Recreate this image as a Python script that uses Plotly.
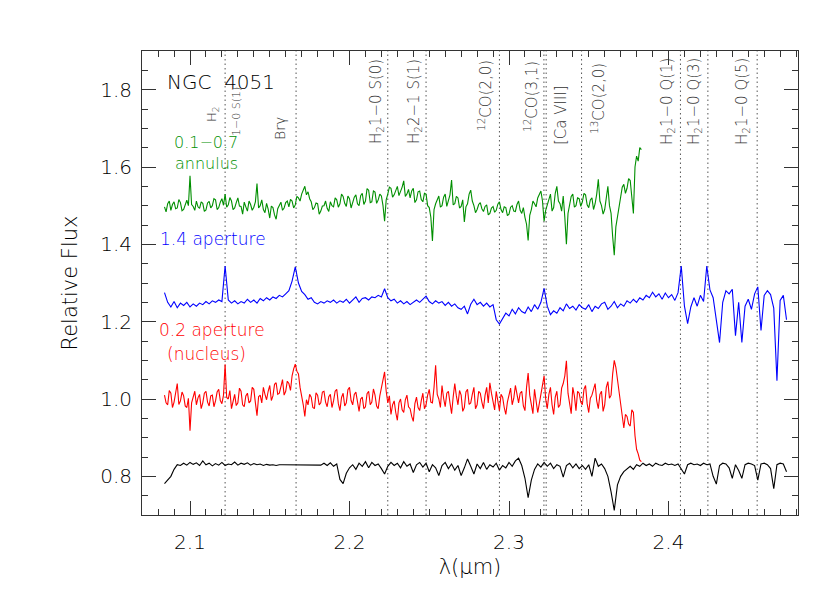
import numpy as np
import plotly.graph_objects as go

# wavelength grids (micron): start and sampling step of each spectrum
lam_start = 2.084
step_fine = 0.001     # annulus and nucleus spectra
step_coarse = 0.002   # 1.4" aperture and template

# 0.1-0.7 arcsec annulus
flux_annulus = [
    1.497, 1.484, 1.505, 1.512, 1.488, 1.503, 1.510, 1.492, 1.494, 1.516,
    1.508, 1.487, 1.490, 1.505, 1.514, 1.500, 1.577, 1.503, 1.498, 1.488,
    1.512, 1.497, 1.493, 1.510, 1.506, 1.485, 1.489, 1.507, 1.511, 1.494,
    1.500, 1.518, 1.515, 1.490, 1.495, 1.509, 1.518, 1.501, 1.530, 1.496,
    1.502, 1.521, 1.512, 1.490, 1.494, 1.508, 1.520, 1.499, 1.498, 1.478,
    1.509, 1.497, 1.486, 1.512, 1.503, 1.488, 1.496, 1.510, 1.557, 1.494,
    1.500, 1.515, 1.490, 1.482, 1.506, 1.491, 1.468, 1.499, 1.495, 1.476,
    1.465, 1.492, 1.500, 1.509, 1.488, 1.494, 1.508, 1.512, 1.497, 1.516,
    1.512, 1.494, 1.502, 1.524, 1.520, 1.512, 1.530, 1.542, 1.550, 1.528,
    1.536, 1.518, 1.510, 1.490, 1.495, 1.507, 1.505, 1.478, 1.486, 1.499,
    1.500, 1.512, 1.493, 1.485, 1.510, 1.500, 1.497, 1.520, 1.515, 1.496,
    1.505, 1.530, 1.524, 1.506, 1.498, 1.525, 1.518, 1.494, 1.508, 1.522,
    1.528, 1.505, 1.500, 1.526, 1.532, 1.503, 1.512, 1.544, 1.540, 1.508,
    1.510, 1.538, 1.535, 1.506, 1.515, 1.530, 1.525, 1.500, 1.460, 1.515,
    1.530, 1.548, 1.545, 1.522, 1.528, 1.540, 1.550, 1.526, 1.535, 1.548,
    1.564, 1.524, 1.530, 1.542, 1.520, 1.538, 1.545, 1.508, 1.515, 1.536,
    1.538, 1.516, 1.510, 1.532, 1.530, 1.500, 1.495, 1.470, 1.409, 1.490,
    1.505, 1.518, 1.525, 1.496, 1.500, 1.522, 1.530, 1.498, 1.512, 1.528,
    1.566, 1.502, 1.505, 1.524, 1.520, 1.494, 1.498, 1.515, 1.458, 1.497,
    1.505, 1.530, 1.540, 1.512, 1.500, 1.482, 1.490, 1.503, 1.508, 1.492,
    1.485, 1.498, 1.502, 1.476, 1.480, 1.494, 1.498, 1.483, 1.488, 1.504,
    1.510, 1.490, 1.482, 1.497, 1.495, 1.474, 1.478, 1.496, 1.500, 1.486,
    1.485, 1.503, 1.512, 1.488, 1.480, 1.495, 1.470, 1.452, 1.410, 1.475,
    1.490, 1.512, 1.505, 1.497, 1.520, 1.530, 1.538, 1.512, 1.460, 1.488,
    1.500, 1.518, 1.530, 1.486, 1.495, 1.532, 1.550, 1.512, 1.505, 1.486,
    1.525, 1.470, 1.400, 1.480, 1.508, 1.524, 1.530, 1.496, 1.500, 1.520,
    1.518, 1.498, 1.510, 1.532, 1.528, 1.502, 1.495, 1.515, 1.520, 1.490,
    1.505, 1.530, 1.568, 1.512, 1.500, 1.478, 1.490, 1.522, 1.550, 1.500,
    1.480, 1.420, 1.372, 1.445, 1.470, 1.505, 1.520, 1.548, 1.555, 1.532,
    1.545, 1.570, 1.565, 1.520, 1.480, 1.600, 1.628, 1.615, 1.650, 1.645,
]

# 1.4 arcsec aperture
flux_ap14 = [
    1.275, 1.250, 1.238, 1.252, 1.236, 1.248, 1.242, 1.250, 1.238, 1.246,
    1.240, 1.248, 1.244, 1.252, 1.246, 1.254, 1.250, 1.256, 1.252, 1.344,
    1.256, 1.248, 1.254, 1.246, 1.252, 1.248, 1.258, 1.250, 1.256, 1.248,
    1.260, 1.254, 1.262, 1.256, 1.264, 1.260, 1.268, 1.264, 1.272, 1.280,
    1.305, 1.342, 1.300, 1.278, 1.270, 1.258, 1.262, 1.250, 1.246, 1.252,
    1.248, 1.254, 1.250, 1.256, 1.248, 1.254, 1.250, 1.258, 1.248, 1.256,
    1.264, 1.250, 1.260, 1.262, 1.256, 1.264, 1.262, 1.268, 1.264, 1.285,
    1.262, 1.254, 1.258, 1.248, 1.254, 1.246, 1.252, 1.244, 1.250, 1.256,
    1.250, 1.258, 1.266, 1.252, 1.246, 1.254, 1.248, 1.252, 1.242, 1.250,
    1.240, 1.246, 1.236, 1.232, 1.240, 1.220, 1.245, 1.258, 1.244, 1.250,
    1.240, 1.248, 1.238, 1.244, 1.205, 1.194, 1.208, 1.222, 1.215, 1.232,
    1.220, 1.236, 1.226, 1.222, 1.238, 1.226, 1.244, 1.232, 1.250, 1.286,
    1.240, 1.218, 1.228, 1.222, 1.236, 1.228, 1.246, 1.234, 1.240, 1.230,
    1.244, 1.236, 1.232, 1.244, 1.226, 1.240, 1.234, 1.246, 1.250, 1.232,
    1.240, 1.252, 1.236, 1.246, 1.240, 1.254, 1.248, 1.258, 1.250, 1.262,
    1.256, 1.268, 1.262, 1.276, 1.264, 1.272, 1.258, 1.274, 1.262, 1.270,
    1.255, 1.275, 1.344, 1.240, 1.195, 1.238, 1.262, 1.240, 1.268, 1.252,
    1.344, 1.282, 1.262, 1.200, 1.146, 1.250, 1.280, 1.272, 1.284, 1.164,
    1.250, 1.146, 1.240, 1.258, 1.232, 1.272, 1.290, 1.177, 1.268, 1.280,
    1.270, 1.235, 1.047, 1.255, 1.268, 1.205,
]

# 0.2 arcsec aperture (nucleus)
flux_nucleus = [
    1.010, 0.990, 0.985, 1.022, 1.015, 0.978, 0.992, 1.012, 1.040, 0.986,
    0.995, 1.018, 1.008, 0.982, 0.978, 1.002, 0.918, 0.990, 1.005, 1.020,
    0.985, 1.003, 1.012, 0.975, 0.990, 1.015, 1.020, 0.992, 0.982, 1.008,
    1.010, 0.980, 0.995, 1.018, 1.025, 0.996, 0.988, 1.010, 1.090, 1.004,
    1.000, 1.022, 0.975, 0.998, 1.012, 0.983, 0.990, 1.028, 1.020, 0.985,
    0.980, 1.008, 1.015, 0.990, 0.995, 1.030, 1.025, 0.990, 0.957, 1.006,
    1.010, 0.990, 1.030, 1.012, 0.998, 1.020, 1.035, 0.996, 1.008, 1.038,
    1.042, 1.012, 1.015, 1.032, 1.050, 1.010, 1.020, 1.046, 1.040, 1.022,
    1.060, 1.078, 1.090, 1.072, 1.065, 1.030, 1.010, 0.985, 0.955, 0.998,
    0.985, 1.012, 1.005, 0.978, 0.975, 1.016, 1.010, 0.985, 0.990, 1.018,
    1.020, 0.992, 0.980, 1.006, 1.012, 0.978, 0.995, 1.020, 1.025, 0.988,
    0.970, 1.004, 1.015, 0.982, 0.990, 1.024, 1.030, 0.996, 0.985, 1.012,
    1.018, 0.990, 0.968, 1.000, 1.005, 0.975, 0.980, 1.014, 1.020, 0.985,
    0.992, 1.026, 1.010, 0.982, 0.975, 1.008, 1.030, 1.045, 1.070, 1.020,
    0.990, 1.008, 0.960, 0.985, 0.995, 0.965, 0.945, 0.990, 1.000, 0.972,
    0.965, 0.998, 1.010, 0.980, 0.975, 0.955, 0.942, 0.988, 1.005, 0.978,
    0.970, 0.996, 1.015, 0.975, 0.985, 1.010, 1.025, 0.992, 0.990, 1.030,
    1.087, 1.012, 1.000, 0.978, 1.035, 1.002, 0.980, 1.015, 1.020, 0.990,
    0.962, 1.005, 1.040, 1.008, 0.985, 1.022, 1.010, 0.968, 0.978, 1.018,
    1.025, 0.986, 0.990, 1.012, 1.030, 0.975, 0.985, 1.020, 1.015, 0.992,
    0.975, 1.010, 1.030, 0.990, 1.042, 1.015, 0.995, 0.972, 1.020, 0.995,
    0.970, 1.012, 1.005, 0.978, 0.960, 0.992, 1.015, 1.028, 0.985, 1.002,
    1.035, 1.006, 0.990, 1.015, 1.020, 0.982, 0.970, 1.030, 1.067, 1.010,
    0.985, 0.962, 1.025, 0.995, 0.965, 0.988, 1.010, 1.034, 1.060, 1.000,
    0.975, 1.012, 1.030, 0.985, 0.960, 1.005, 1.020, 0.978, 0.985, 1.028,
    1.040, 1.060, 1.099, 1.015, 0.990, 0.962, 1.030, 1.008, 0.970, 1.020,
    1.015, 0.992, 0.985, 1.025, 1.035, 0.988, 0.965, 1.002, 1.010, 1.028,
    1.040, 0.995, 0.975, 1.012, 1.020, 0.968, 0.985, 1.030, 1.045, 1.002,
    1.010, 1.065, 1.100, 1.082, 1.050, 1.020, 0.985, 0.950, 0.925, 0.960,
    0.955, 0.935, 0.930, 0.972, 0.965, 0.905, 0.870, 0.858, 0.842, 0.838,
]

# stellar template
flux_template = [
    0.781, 0.792, 0.800, 0.818, 0.830, 0.828, 0.834, 0.829, 0.836, 0.831,
    0.835, 0.828, 0.840, 0.830, 0.834, 0.827, 0.833, 0.829, 0.836, 0.828,
    0.832, 0.830, 0.837, 0.829, 0.834, 0.831, 0.835, 0.829, 0.833, 0.830,
    0.832, 0.828, 0.831, 0.829, 0.830, 0.828, 0.830, 0.830, 0.830, 0.830,
    0.830, 0.830, 0.830, 0.830, 0.830, 0.830, 0.830, 0.830, 0.830, 0.829,
    0.834, 0.828, 0.835, 0.826, 0.832, 0.792, 0.781, 0.808, 0.822, 0.830,
    0.818, 0.834, 0.826, 0.838, 0.822, 0.836, 0.828, 0.832, 0.820, 0.806,
    0.826, 0.836, 0.828, 0.834, 0.822, 0.838, 0.826, 0.832, 0.810, 0.830,
    0.836, 0.824, 0.834, 0.812, 0.830, 0.822, 0.802, 0.828, 0.836, 0.820,
    0.832, 0.816, 0.828, 0.802, 0.822, 0.845, 0.826, 0.806, 0.832, 0.820,
    0.836, 0.818, 0.830, 0.824, 0.834, 0.816, 0.828, 0.822, 0.836, 0.826,
    0.840, 0.847, 0.828, 0.795, 0.745, 0.790, 0.818, 0.832, 0.824, 0.836,
    0.826, 0.834, 0.820, 0.830, 0.826, 0.798, 0.828, 0.834, 0.822, 0.832,
    0.820, 0.828, 0.818, 0.830, 0.800, 0.847, 0.826, 0.832, 0.820, 0.800,
    0.760, 0.712, 0.778, 0.800, 0.812, 0.820, 0.826, 0.818, 0.830, 0.826,
    0.834, 0.828, 0.832, 0.826, 0.834, 0.830, 0.828, 0.834, 0.830, 0.832,
    0.828, 0.832, 0.820, 0.806, 0.830, 0.834, 0.830, 0.832, 0.828, 0.834,
    0.830, 0.832, 0.800, 0.780, 0.828, 0.834, 0.832, 0.822, 0.795, 0.830,
    0.815, 0.795, 0.830, 0.834, 0.832, 0.828, 0.790, 0.832, 0.834, 0.830,
    0.820, 0.768, 0.830, 0.834, 0.832, 0.812,
]

# emission / absorption line markers (micron)
line_wavelengths = [2.1220, 2.1665, 2.2240, 2.2480, 2.2940, 2.3219, 2.3233,
                    2.3455, 2.4075, 2.4247, 2.4556]

line_labels = ['H<sub>2</sub>', '1\u22120 S(1)', 'Br\u03b3',
               'H<sub>2</sub>1\u22120 S(0)', 'H<sub>2</sub>2\u22121 S(1)',
               '<sup>12</sup>CO(2,0)', '<sup>12</sup>CO(3,1)', '[Ca VIII]',
               '<sup>13</sup>CO(2,0)', 'H<sub>2</sub>1\u22120 Q(1)',
               'H<sub>2</sub>1\u22120 Q(3)', 'H<sub>2</sub>1\u22120 Q(5)']

FONT = 'DejaVu Sans'
WEIGHT = 200
W, H = 830, 593
ML, MR, MT, MB = 134, 40, 43, 86
PW, PH = W - ML - MR, H - MT - MB


def px_to_paper(px, py):
    return (px - ML) / PW, (MT + PH - py) / PH


def lam(n, step):
    return lam_start + step * np.arange(n)


fig = go.Figure()

series = [
    (flux_annulus, step_fine, '#008f00'),
    (flux_ap14, step_coarse, '#0000ff'),
    (flux_nucleus, step_fine, '#ff0000'),
    (flux_template, step_coarse, '#000000'),
]
for flux, step, color in series:
    fig.add_trace(go.Scatter(
        x=lam(len(flux), step), y=flux, mode='lines',
        line=dict(color=color, width=1.1),
        showlegend=False, hoverinfo='skip'
    ))

# dotted line markers
for w in line_wavelengths:
    fig.add_shape(type='line', x0=w, x1=w, xref='x', y0=0, y1=1, yref='paper',
                  line=dict(color='#555555', width=1, dash='1.5px,3px'), layer='below')

# label centres in pixels and font sizes (layout only)
label_pos = [(204, 106, 13), (228, 104, 11), (272, 121, 14), (368, 94, 15),
             (406, 94, 15), (477, 88, 15), (523, 89, 15), (553, 107, 15),
             (590, 91, 15), (659, 94, 15), (686, 94, 15), (734, 94, 15)]
annotations = []
for text, (px, py, size) in zip(line_labels, label_pos):
    ax, ay = px_to_paper(px, py)
    annotations.append(dict(
        text=text, x=ax, y=ay, xref='paper', yref='paper',
        xanchor='center', yanchor='middle', textangle=-90, showarrow=False,
        font=dict(family=FONT, size=size, color='#333333', weight=WEIGHT)
    ))

# object name and aperture captions
captions = [
    ('NGC  4051', 213, 74, 20, '#000000'),
    ('0.1\u22120.7', 198, 134, 16, '#008f00'),
    ('annulus', 198, 155, 16, '#008f00'),
    ('1.4 aperture', 205, 231, 17, '#0000ff'),
    ('0.2 aperture', 204, 322, 17, '#ff0000'),
    ('(nucleus)', 198, 346, 17, '#ff0000'),
]
for text, px, py, size, color in captions:
    ax, ay = px_to_paper(px, py)
    annotations.append(dict(
        text=text, x=ax, y=ay, xref='paper', yref='paper',
        xanchor='center', yanchor='middle', showarrow=False,
        font=dict(family=FONT, size=size, color=color, weight=WEIGHT)
    ))

axis_common = dict(
    showline=True, linecolor='#333333', linewidth=1, mirror='allticks',
    ticks='inside', tickcolor='#333333', showgrid=False, zeroline=False,
    tickfont=dict(family=FONT, size=20, color='#000000', weight=WEIGHT),
)

fig.update_layout(
    width=W, height=H,
    margin=dict(l=ML, r=MR, t=MT, b=MB),
    paper_bgcolor='white', plot_bgcolor='white',
    annotations=annotations,
    xaxis=dict(range=[2.0699, 2.4812], dtick=0.1, tick0=2.0, ticklen=14,
               tickformat='.1f', ticklabelstandoff=9,
               minor=dict(dtick=0.01, ticklen=6, ticks='inside', tickcolor='#333333'),
               title=dict(text='\u03bb(\u03bcm)', standoff=6,
                          font=dict(family=FONT, size=21, color='#000000', weight=WEIGHT)),
               **axis_common),
    yaxis=dict(range=[0.7, 1.9], dtick=0.2, tick0=0.0, ticklen=14,
               tickformat='.1f', ticklabelstandoff=5,
               minor=dict(dtick=0.05, ticklen=6, ticks='inside', tickcolor='#333333'),
               title=dict(text='Relative Flux', standoff=16,
                          font=dict(family=FONT, size=21, color='#000000', weight=WEIGHT)),
               **axis_common),
)

fig.write_html("out.html")
